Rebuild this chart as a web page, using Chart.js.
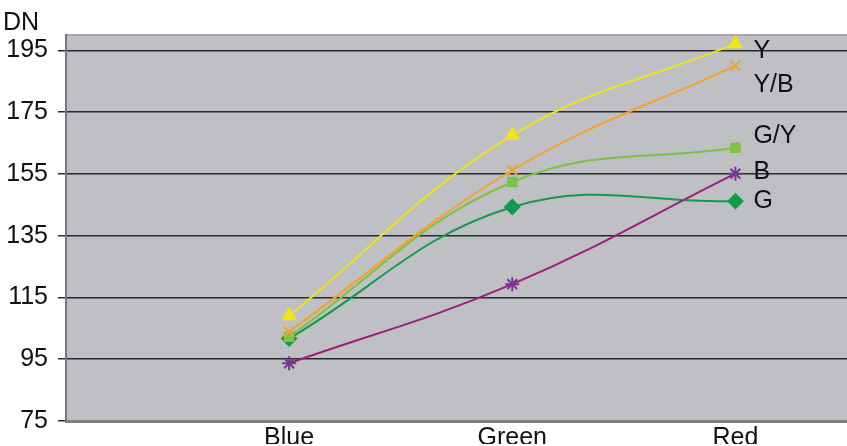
<!DOCTYPE html>
<html>
<head>
<meta charset="utf-8">
<script src="https://cdn.jsdelivr.net/npm/chart.js@4.4.1/dist/chart.umd.min.js"></script>
<style>
  html, body { margin: 0; padding: 0; background: #fff; }
  #wrap { width: 847px; height: 446px; }
</style>
</head>
<body>
<div id="wrap"><canvas id="dnChart" width="847" height="446"></canvas></div>
<script>
const categories = ['Blue', 'Green', 'Red'];
const yTicks = [75, 95, 115, 135, 155, 175, 195];

const seriesNames = ['Y', 'Y/B', 'G/Y', 'B', 'G'];
const valuesY = [109.1, 167.5, 197.2];
const valuesYB = [103.9, 156.2, 190.1];
const valuesGY = [102.3, 152.4, 163.5];
const valuesB = [93.7, 119.3, 155.1];
const valuesG = [101.7, 144.3, 146.2];

// vertical nudge of the end-of-line names so they don't collide
const labelDy = [7, 20, -12, -2, 0];

const FONT = 'Liberation Sans, Arial, sans-serif';

function toPoints(values) {
    return values.map((v, i) => ({ x: i + 1, y: v }));
}

function makeSeries(label, values, color, pointColor, style, radius) {
    return {
        label: label,
        data: toPoints(values),
        borderColor: color,
        backgroundColor: pointColor,
        pointBackgroundColor: pointColor,
        pointBorderColor: pointColor,
        pointStyle: style,
        pointRadius: radius,
        pointBorderWidth: 2,
        borderWidth: 2,
        tension: 0.4,
        fill: false
    };
}

const plotBackground = {
    id: 'plotBackground',
    beforeDraw(chart) {
        const { ctx, chartArea: a } = chart;
        ctx.save();
        ctx.fillStyle = '#bec0c4';
        ctx.fillRect(a.left, a.top, a.right - a.left, a.bottom - a.top);
        ctx.strokeStyle = '#a6a7ab';
        ctx.lineWidth = 2;
        ctx.beginPath();
        ctx.moveTo(a.left, a.top);
        ctx.lineTo(a.right, a.top);
        ctx.stroke();
        ctx.restore();
    }
};

const seriesNamesPlugin = {
    id: 'seriesNames',
    afterDatasetsDraw(chart) {
        const { ctx } = chart;
        ctx.save();
        ctx.font = '25px ' + FONT;
        ctx.fillStyle = '#111';
        ctx.textBaseline = 'middle';
        ctx.textAlign = 'left';
        chart.data.datasets.forEach((ds, i) => {
            const pts = chart.getDatasetMeta(i).data;
            const last = pts[pts.length - 1];
            ctx.fillText(ds.label, last.x + 18, last.y + labelDy[i]);
        });
        // unit title above the value axis
        ctx.textBaseline = 'alphabetic';
        ctx.fillText('DN', 3, 30);
        ctx.restore();
    }
};

function createDnChart() {
    const ctx = document.getElementById('dnChart').getContext('2d');
    new Chart(ctx, {
        type: 'line',
        data: {
            datasets: [
                makeSeries(seriesNames[0], valuesY, '#ece31f', '#eee41a', 'triangle', 7),
                makeSeries(seriesNames[1], valuesYB, '#f6a02e', '#f6a02e', 'crossRot', 7),
                makeSeries(seriesNames[2], valuesGY, '#7dc243', '#7dc243', 'rect', 6),
                makeSeries(seriesNames[3], valuesB, '#9a1f7c', '#7a3593', 'star', 7),
                makeSeries(seriesNames[4], valuesG, '#129a4a', '#129a4a', 'rectRot', 7)
            ]
        },
        options: {
            responsive: false,
            animation: false,
            layout: { autoPadding: false, padding: { top: 35, right: 0, left: 0, bottom: 0 } },
            plugins: {
                legend: { display: false },
                tooltip: { enabled: false }
            },
            scales: {
                x: {
                    type: 'linear',
                    min: 0,
                    max: 3.5,
                    afterBuildTicks(axis) {
                        axis.ticks = categories.map((c, i) => ({ value: i + 1 }));
                    },
                    afterFit(axis) {
                        axis.height = 23;
                    },
                    ticks: {
                        callback: (v) => categories[v - 1] || '',
                        color: '#111',
                        font: { family: FONT, size: 25 },
                        padding: 2,
                        maxRotation: 0,
                        autoSkip: false
                    },
                    grid: { display: false, drawTicks: false },
                    border: { display: true, color: '#808080', width: 3 }
                },
                y: {
                    min: 75,
                    max: 200,
                    afterBuildTicks(axis) {
                        axis.ticks = yTicks.map(v => ({ value: v }));
                    },
                    afterFit(axis) {
                        axis.width = 66;
                    },
                    ticks: {
                        color: '#111',
                        font: { family: FONT, size: 25 },
                        padding: 10
                    },
                    grid: {
                        color: '#2a2a2a',
                        lineWidth: 1.5,
                        tickLength: 8,
                        drawTicks: true
                    },
                    border: { display: true, color: '#777', width: 2 }
                }
            }
        },
        plugins: [plotBackground, seriesNamesPlugin]
    });
}

document.addEventListener('DOMContentLoaded', createDnChart);
</script>
</body>
</html>
